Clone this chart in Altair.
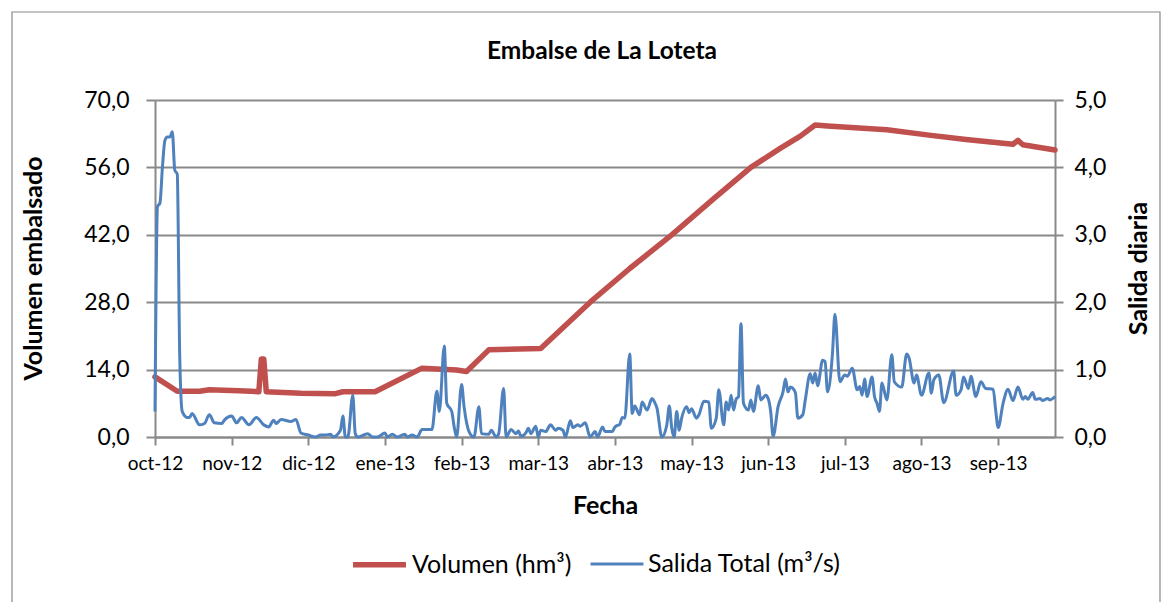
import json
import altair as alt
import pandas as pd

titulo = "Embalse de La Loteta"
serie_vol = "Volumen (hm³)"
serie_sal = "Salida Total (m³/s)"
titulo_x = "Fecha"
titulo_y_izq = "Volumen embalsado"
titulo_y_der = "Salida diaria"

meses = ["oct-12", "nov-12", "dic-12", "ene-13", "feb-13", "mar-13",
         "abr-13", "may-13", "jun-13", "jul-13", "ago-13", "sep-13"]
dias_meses = [0, 31, 62, 93, 124, 155, 186, 217, 248, 279, 310, 341]
ticks_vol = [0, 14, 28, 42, 56, 70]
ticks_sal = [0, 1, 2, 3, 4, 5]

# Volumen embalsado (hm3), indice de dia desde 1-oct-2012
vol_dia = [0, 9, 18, 22, 34, 42, 43, 44, 45, 59, 73, 76, 89, 108, 122, 126, 135,
           156, 176, 192, 209, 226, 241, 253, 261, 267, 272, 296, 313, 328, 347,
           349, 351, 364]
vol_valor = [12.5, 9.5, 9.5, 9.8, 9.6, 9.4, 16.2, 16.2, 9.4, 9.1, 9.0, 9.4, 9.4,
             14.3, 13.9, 13.6, 18.1, 18.4, 28.0, 35.0, 42.0, 49.5, 56.0, 60.0,
             62.5, 64.8, 64.6, 63.8, 62.7, 61.8, 60.8, 61.6, 60.7, 59.6]

# Salida total (m3/s)
sal_dia = [0, 1, 2, 3, 4, 5, 6, 7, 8, 9, 10, 11, 13, 14, 15, 18, 20, 22, 24, 27,
           28, 31, 33, 35, 38, 41, 44, 46, 48, 49, 51, 55, 57, 59, 62, 65, 67, 69,
           71, 72, 75, 76, 77, 78, 80, 81, 82, 86, 88, 90, 93, 94, 96, 98, 101,
           102, 104, 106, 108, 112, 114, 115, 117, 118, 120, 121, 122, 124, 125,
           127, 129, 131, 132, 135, 136, 138, 139, 141, 142, 144, 146, 147, 148,
           150, 151, 152, 154, 155, 156, 158, 160, 162, 163, 165, 166, 168, 169,
           171, 172, 174, 176, 178, 179, 181, 182, 185, 186, 188, 189, 190, 192,
           193, 194, 196, 197, 199, 201, 202, 203, 205, 207, 208, 209, 210, 211,
           212, 213, 215, 216, 217, 219, 220, 222, 224, 225, 227, 228, 230, 231,
           232, 233, 234, 235, 236, 237, 238, 240, 241, 242, 244, 245, 247, 248,
           249, 250, 252, 254, 255, 256, 257, 259, 260, 262, 263, 265, 266, 267,
           268, 270, 271, 272, 274, 275, 277, 279, 280, 282, 284, 285, 286, 287,
           288, 290, 291, 292, 293, 294, 296, 298, 299, 302, 304, 305, 307, 308,
           310, 313, 314, 315, 317, 319, 323, 324, 326, 327, 329, 330, 332, 334,
           336, 339, 340, 341, 343, 345, 347, 349, 351, 352, 353, 355, 356, 358,
           359, 361, 362, 364]
sal_valor = [0.38, 3.42, 3.47, 4.0, 4.4, 4.45, 4.45, 4.53, 3.96, 3.9, 1.2, 0.38,
             0.29, 0.29, 0.35, 0.18, 0.2, 0.33, 0.21, 0.2, 0.25, 0.31, 0.21, 0.29,
             0.18, 0.29, 0.18, 0.15, 0.25, 0.2, 0.26, 0.23, 0.26, 0.06, 0.03, 0.0,
             0.03, 0.03, 0.04, 0.0, 0.1, 0.31, 0.0, 0.0, 0.62, 0.05, 0.0, 0.05, 0.0,
             0.0, 0.06, 0.0, 0.04, 0.0, 0.04, 0.0, 0.03, 0.0, 0.11, 0.11, 0.68,
             0.38, 1.35, 0.5, 0.38, 0.15, 0.0, 0.78, 0.45, 0.08, 0.0, 0.45, 0.05,
             0.04, 0.1, 0.0, 0.05, 0.72, 0.0, 0.11, 0.05, 0.09, 0.01, 0.06, 0.13,
             0.05, 0.16, 0.0, 0.1, 0.08, 0.18, 0.1, 0.13, 0.1, 0.0, 0.24, 0.14,
             0.18, 0.16, 0.21, 0.0, 0.08, 0.0, 0.15, 0.08, 0.08, 0.15, 0.19, 0.29,
             0.28, 1.23, 0.35, 0.46, 0.33, 0.52, 0.4, 0.57, 0.52, 0.43, 0.0, 0.18,
             0.46, 0.13, 0.0, 0.38, 0.1, 0.28, 0.45, 0.36, 0.42, 0.28, 0.33, 0.53,
             0.52, 0.13, 0.28, 0.7, 0.18, 0.52, 0.4, 0.62, 0.4, 0.56, 0.6, 1.68,
             0.5, 0.4, 0.55, 0.38, 0.76, 0.55, 0.62, 0.57, 0.38, 0.01, 0.45, 0.67,
             0.86, 0.67, 0.74, 0.66, 0.28, 0.33, 0.55, 0.94, 0.8, 0.95, 0.76, 1.14,
             1.12, 0.67, 1.24, 1.82, 0.82, 0.92, 0.9, 1.02, 0.7, 0.75, 0.62, 0.86,
             0.6, 0.89, 0.6, 0.5, 0.38, 0.8, 0.55, 1.22, 0.82, 0.74, 1.23, 1.17,
             0.8, 0.92, 0.62, 0.95, 0.65, 0.85, 0.92, 0.51, 0.98, 0.62, 0.7, 0.89,
             0.72, 0.9, 0.6, 0.82, 0.72, 0.71, 0.4, 0.14, 0.5, 0.71, 0.54, 0.74,
             0.56, 0.6, 0.56, 0.66, 0.56, 0.57, 0.54, 0.57, 0.55, 0.6]

df_vol = pd.DataFrame({"dia": vol_dia, "valor": vol_valor, "serie": serie_vol})
df_sal = pd.DataFrame({"dia": sal_dia, "valor": sal_valor, "serie": serie_sal})

FONT = "Lato"
GRIS = "#898989"
ROJO = "#C0504D"
AZUL = "#4F81BD"

x_expr = "%s[indexof(%s, datum.value)]" % (json.dumps(meses), json.dumps(dias_meses))
y_expr = "replace(format(datum.value, '.1f'), '.', ',')"

eje_x = alt.X(
    "dia:Q",
    scale=alt.Scale(domain=[0, 364], nice=False, zero=False),
    axis=alt.Axis(values=dias_meses, labelExpr=x_expr, title=titulo_x, grid=False,
                  tickSize=8, labelPadding=9, labelFontSize=19, labelOverlap=False,
                  labelFlush=False,
                  titleX=450, titleY=68, titleAlign="center", titleBaseline="middle"),
)

dominio = [serie_vol, serie_sal]
leyenda = alt.Legend(title=None, orient="none", direction="horizontal",
                     legendX=195, legendY=435, labelLimit=500)
color = alt.Color("serie:N", scale=alt.Scale(domain=dominio, range=[ROJO, AZUL]),
                  legend=leyenda)
grosor = alt.StrokeWidth("serie:N", scale=alt.Scale(domain=dominio, range=[5.5, 3]),
                         legend=leyenda)

linea_vol = alt.Chart(df_vol).mark_line(strokeCap="round", strokeJoin="round").encode(
    x=eje_x,
    y=alt.Y("valor:Q", scale=alt.Scale(domain=[0, 70], nice=False),
            axis=alt.Axis(values=ticks_vol, labelExpr=y_expr, title=titulo_y_izq,
                          orient="left", grid=True, gridColor=GRIS, gridWidth=2,
                          tickSize=9, labelPadding=17, labelFontSize=23,
                          titleX=-122, titleY=168, titleAngle=270, titleAlign="center",
                          titleBaseline="middle")),
    color=color,
    strokeWidth=grosor,
)

linea_sal = alt.Chart(df_sal).mark_line(interpolate="monotone", strokeJoin="round").encode(
    x=eje_x,
    y=alt.Y("valor:Q", scale=alt.Scale(domain=[0, 5], nice=False),
            axis=alt.Axis(values=ticks_sal, labelExpr=y_expr, title=titulo_y_der,
                          orient="right", grid=False,
                          tickSize=8, labelPadding=11, labelFontSize=23,
                          titleX=83, titleY=168, titleAngle=270, titleAlign="center",
                          titleBaseline="middle")),
    color=color,
    strokeWidth=grosor,
)

marco = alt.Chart(pd.DataFrame({"k": [0]})).mark_rect(
    fill=None, stroke=GRIS, strokeWidth=1.2
).encode(
    x=alt.value(-143), x2=alt.value(1005), y=alt.value(-88), y2=alt.value(540)
)

texto_titulo = alt.Chart(pd.DataFrame({"t": [titulo]})).mark_text(
    font=FONT, fontSize=24.5, fontWeight="bold", color="black",
    align="center", baseline="middle"
).encode(
    text="t:N", x=alt.value(447), y=alt.value(-48)
)

chart = alt.layer(marco, texto_titulo, linea_vol, linea_sal).resolve_scale(
    y="independent"
).properties(
    width=900,
    height=337,
    padding={"left": 147, "top": 92, "right": 108, "bottom": 165},
    autosize=alt.AutoSizeParams(type="none"),
).configure_view(
    stroke=None
).configure_axis(
    domainColor=GRIS, domainWidth=2, tickColor=GRIS, tickWidth=2,
    labelFont=FONT, labelColor="black", titleFont=FONT, titleFontSize=25,
    titleFontWeight="bold", titleColor="black",
).configure_legend(
    labelFont=FONT, labelFontSize=25, labelColor="black", symbolType="stroke",
    symbolSize=2800, labelOffset=3, columnPadding=12,
)

chart.save("out.html", embed_options={"renderer": "svg", "actions": False})
